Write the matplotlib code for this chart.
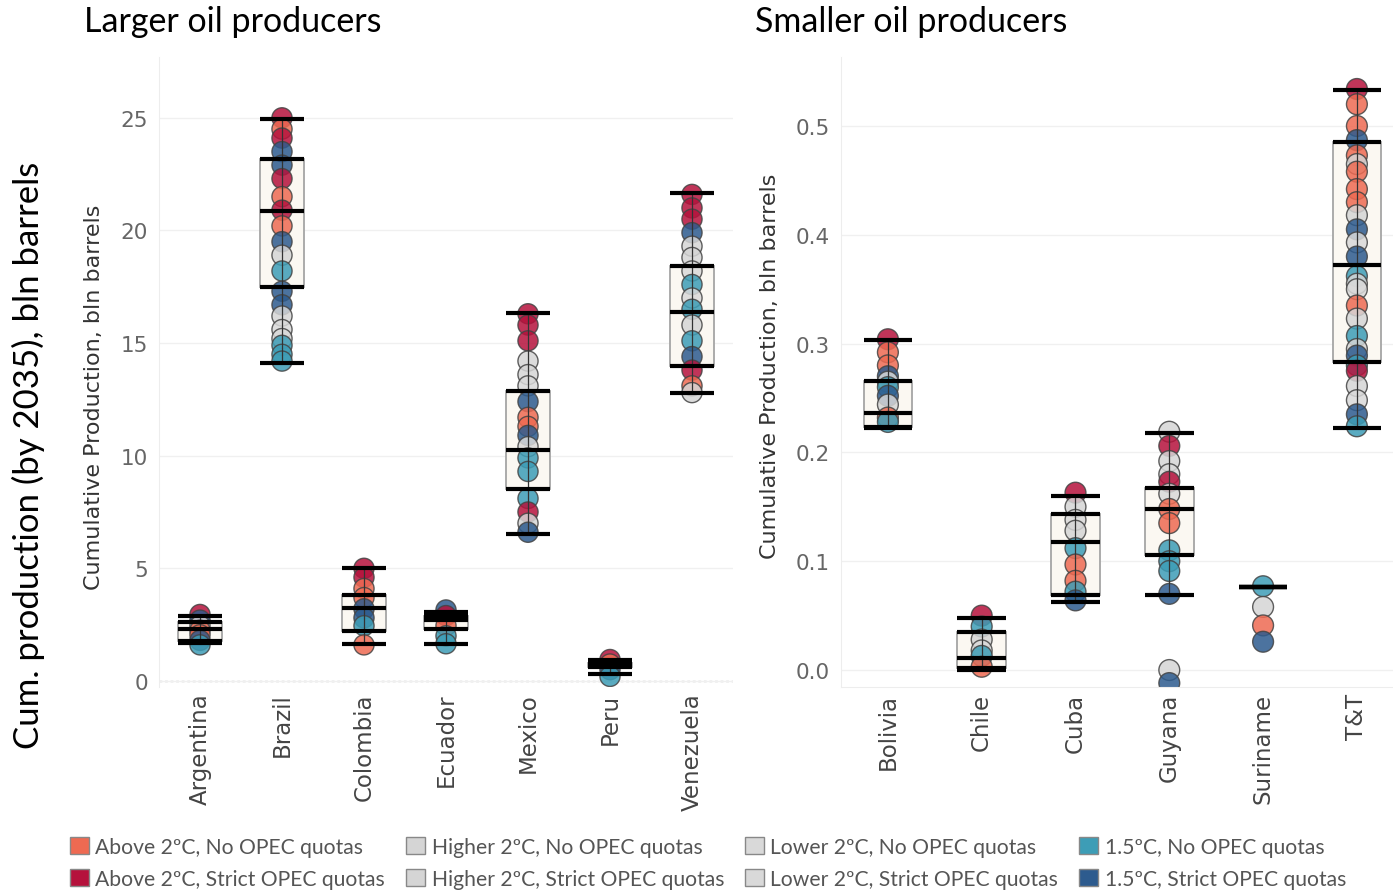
import numpy as np
import matplotlib.pyplot as plt
from matplotlib.patches import Rectangle, Patch

plt.rcParams['font.family'] = ['DejaVu Sans']
HEAD_FONT = ['Lato', 'DejaVu Sans']

# scenario order: 0 Above/No, 1 Above/Strict, 2 Higher/No, 3 Higher/Strict,
# 4 Lower/No, 5 Lower/Strict, 6 1.5/No, 7 1.5/Strict
scenarios = ["Above 2ºC, No OPEC quotas", "Above 2ºC, Strict OPEC quotas",
             "Higher 2ºC, No OPEC quotas", "Higher 2ºC, Strict OPEC quotas",
             "Lower 2ºC, No OPEC quotas", "Lower 2ºC, Strict OPEC quotas",
             "1.5ºC, No OPEC quotas", "1.5ºC, Strict OPEC quotas"]
scen_colors = ["#EE6A52", "#B5123C", "#D5D5D5", "#D5D5D5",
               "#D9D9D9", "#D9D9D9", "#3D9DB6", "#2D5B8E"]

large_countries = ["Argentina", "Brazil", "Colombia", "Ecuador", "Mexico", "Peru", "Venezuela"]
large_values = {
    "Argentina": [2.95, 2.7, 2.45, 2.25, 2.05, 1.8, 1.6],
    "Brazil": [25.0, 24.5, 24.1, 23.5, 22.9, 22.3, 21.5, 20.9, 20.2, 19.5, 18.9, 18.2,
               17.3, 16.7, 16.2, 15.6, 15.2, 14.9, 14.5, 14.2],
    "Colombia": [5.0, 4.6, 4.1, 3.7, 3.2, 2.8, 2.45, 1.6],
    "Ecuador": [3.15, 2.9, 2.45, 2.0, 1.65],
    "Mexico": [16.3, 15.8, 15.1, 14.2, 13.6, 13.1, 12.4, 11.7, 11.3, 10.9, 10.4, 9.9,
               9.3, 8.1, 7.5, 7.0, 6.6],
    "Peru": [0.95, 0.75, 0.5, 0.2],
    "Venezuela": [21.6, 21.0, 20.5, 19.9, 19.3, 18.8, 18.2, 17.6, 17.0, 16.5, 15.8,
                  15.1, 14.4, 13.8, 13.1, 12.8],
}
large_scen = {
    "Argentina": [1, 7, 4, 0, 0, 7, 6],
    "Brazil": [1, 0, 1, 7, 7, 1, 0, 1, 0, 7, 2, 6, 7, 7, 3, 4, 5, 6, 6, 6],
    "Colombia": [1, 1, 0, 0, 7, 7, 6, 0],
    "Ecuador": [7, 1, 0, 6, 6],
    "Mexico": [1, 1, 1, 2, 3, 4, 7, 0, 0, 7, 5, 6, 6, 6, 1, 2, 7],
    "Peru": [1, 0, 7, 6],
    "Venezuela": [1, 1, 1, 7, 2, 3, 4, 6, 5, 6, 2, 6, 7, 1, 0, 3],
}
large_whisk_lo = [1.68, 14.1, 1.64, 1.64, 6.53, 0.3, 12.77]
large_q1 = [1.78, 17.51, 2.23, 2.31, 8.53, 0.6, 14.0]
large_med = [2.3, 20.88, 3.24, 2.7, 10.23, 0.7, 16.37]
large_q3 = [2.6, 23.18, 3.82, 2.88, 12.85, 0.8, 18.44]
large_whisk_hi = [2.9, 24.93, 5.02, 3.05, 16.34, 0.95, 21.66]

small_countries = ["Bolivia", "Chile", "Cuba", "Guyana", "Suriname", "T&T"]
small_values = {
    "Bolivia": [0.304, 0.292, 0.28, 0.27, 0.265, 0.26, 0.252, 0.244, 0.232, 0.228],
    "Chile": [0.05, 0.04, 0.028, 0.018, 0.013, 0.003],
    "Cuba": [0.163, 0.15, 0.138, 0.128, 0.112, 0.097, 0.082, 0.072, 0.064],
    "Guyana": [0.219, 0.206, 0.192, 0.18, 0.173, 0.162, 0.148, 0.135, 0.11, 0.1,
               0.091, 0.07, 0.0, -0.012],
    "Suriname": [0.077, 0.058, 0.041, 0.026],
    "T&T": [0.534, 0.52, 0.50, 0.487, 0.473, 0.465, 0.458, 0.442, 0.43, 0.418, 0.405,
            0.393, 0.38, 0.362, 0.355, 0.35, 0.335, 0.323, 0.307, 0.295, 0.289, 0.28,
            0.275, 0.261, 0.248, 0.235, 0.224],
}
small_scen = {
    "Bolivia": [1, 0, 0, 7, 4, 6, 7, 2, 0, 6],
    "Chile": [1, 6, 2, 4, 6, 0],
    "Cuba": [1, 2, 4, 3, 6, 0, 0, 6, 7],
    "Guyana": [2, 1, 3, 4, 1, 5, 0, 0, 6, 6, 6, 7, 2, 7],
    "Suriname": [6, 2, 0, 7],
    "T&T": [1, 0, 0, 7, 0, 2, 0, 0, 0, 3, 7, 4, 7, 6, 2, 5, 0, 2, 6, 3, 7, 6, 1, 2, 4, 7, 6],
}
small_whisk_lo = [0.222, 0.0, 0.0625, 0.069, 0.0765, 0.2224]
small_q1 = [0.223, 0.002, 0.069, 0.106, 0.0765, 0.283]
small_med = [0.236, 0.011, 0.118, 0.148, 0.0765, 0.372]
small_q3 = [0.266, 0.035, 0.143, 0.167, 0.0765, 0.4856]
small_whisk_hi = [0.303, 0.048, 0.16, 0.2175, 0.0765, 0.533]


def draw_panel(ax, countries, values, scen, stats, box_w=0.53, dot_s=210):
    for i, c in enumerate(countries):
        lo, q1, med, q3, hi = (s[i] for s in stats)
        ax.add_patch(Rectangle((i - box_w / 2, q1), box_w, q3 - q1, facecolor="#FBF8F2",
                               edgecolor="#A5A5A5", lw=1.3, zorder=1))
        vals = values[c]
        cols = [scen_colors[k] for k in scen[c]]
        ax.scatter(np.full(len(vals), i), vals, s=dot_s, c=cols, edgecolors="#444444",
                   linewidths=1.0, alpha=0.85, zorder=2)
        ax.vlines(i, lo, hi, color="#333333", lw=0.9, zorder=3)
        ax.hlines([lo, q1, med, q3, hi], i - box_w / 2, i + box_w / 2, color="black",
                  lw=3, zorder=4)
    ax.set_xticks(range(len(countries)))
    ax.set_xticklabels(countries, rotation=90, fontsize=16.5)
    ax.tick_params(axis="both", length=0, labelsize=15.5, labelcolor="#666666")
    ax.tick_params(axis="x", pad=4, labelsize=16.5, labelcolor="#444444")
    ax.tick_params(axis="y", pad=8)
    ax.grid(axis="y", color="#F0F0F0", lw=1)
    ax.set_axisbelow(True)
    for sp in ["top", "right", "bottom"]:
        ax.spines[sp].set_visible(False)
    ax.spines["left"].set_color("#EDEDED")
    ax.set_ylabel("Cumulative Production, bln barrels", fontsize=16, color="#333333")


fig = plt.figure(figsize=(13.93, 8.95), dpi=100)
W, H = 1393, 895

ax1 = fig.add_axes([159 / W, (H - 688) / H, 574 / W, 630 / H])
draw_panel(ax1, large_countries, large_values, large_scen,
           [large_whisk_lo, large_q1, large_med, large_q3, large_whisk_hi])
ax1.set_xlim(-0.5, 6.5)
ax1.set_ylim(-0.27, 27.7)
ax1.set_yticks([0, 5, 10, 15, 20, 25])
ax1.axhline(0, color="#BBBBBB", lw=1, ls=(0, (2, 2)), zorder=0)
ax1.yaxis.set_label_coords(-0.096, 0.462)

ax2 = fig.add_axes([841 / W, (H - 688) / H, 552 / W, 630 / H])
draw_panel(ax2, small_countries, small_values, small_scen,
           [small_whisk_lo, small_q1, small_med, small_q3, small_whisk_hi],
           box_w=0.52, dot_s=225)
ax2.set_xlim(-0.5, 5.385)
ax2.set_ylim(-0.0156, 0.5634)
ax2.set_yticks([0.0, 0.1, 0.2, 0.3, 0.4, 0.5])
ax2.set_yticklabels(["0.0", "0.1", "0.2", "0.3", "0.4", "0.5"])
ax2.spines["bottom"].set_visible(True)
ax2.spines["bottom"].set_color("#EDEDED")
ax2.yaxis.set_label_coords(-0.11, 0.51)

fig.text(84 / W, 1 - 22 / H, "Larger oil producers", fontsize=24.5, va="center", ha="left",
         family=HEAD_FONT)
fig.text(755 / W, 1 - 22 / H, "Smaller oil producers", fontsize=24.5, va="center", ha="left",
         family=HEAD_FONT)
fig.text(28 / W, 1 - 455 / H, "Cum. production (by 2035), bln barrels", fontsize=25,
         rotation=90, va="center", ha="center", family=HEAD_FONT)

handles = [Patch(facecolor=c, edgecolor="#888888", lw=1) for c in scen_colors]
fig.legend(handles, scenarios, ncol=4, loc="center left", bbox_to_anchor=(70 / W, 1 - 864 / H),
           frameon=False, prop={"family": HEAD_FONT, "size": 15.2}, labelcolor="#555555",
           handlelength=0.9, handleheight=0.85, handletextpad=0.3, columnspacing=1.0,
           labelspacing=0.55, borderpad=0, borderaxespad=0)

fig.savefig("out.png", dpi=100)
